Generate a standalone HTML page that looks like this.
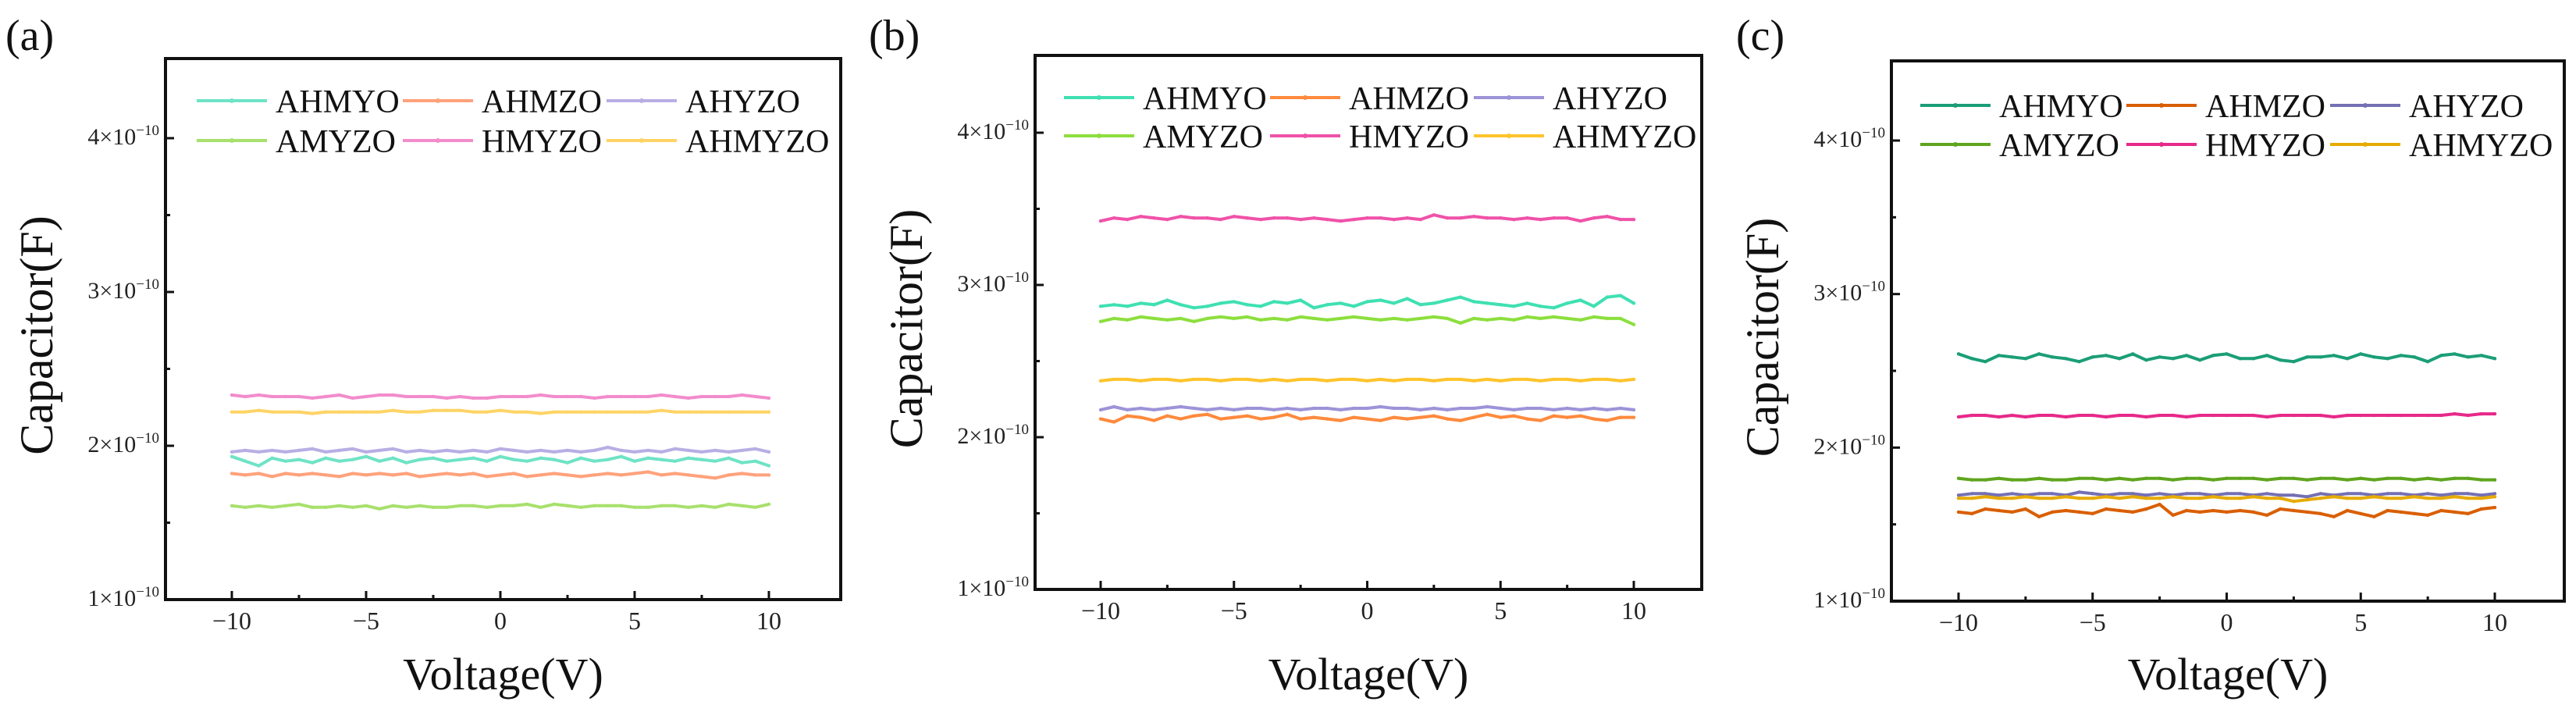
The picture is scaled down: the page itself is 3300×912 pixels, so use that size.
<!DOCTYPE html>
<html><head><meta charset="utf-8"><style>
html,body{margin:0;padding:0;background:#fff;}
svg{display:block;font-family:"Liberation Serif",serif;}
</style></head><body>
<svg id="fig" width="3300" height="912" viewBox="0 0 3300 912" xmlns="http://www.w3.org/2000/svg"></svg>
<script>
const voltages=[-10,-9.5,-9,-8.5,-8,-7.5,-7,-6.5,-6,-5.5,-5,-4.5,-4,-3.5,-3,-2.5,-2,-1.5,-1,-0.5,0,0.5,1,1.5,2,2.5,3,3.5,4,4.5,5,5.5,6,6.5,7,7.5,8,8.5,9,9.5,10];
const seriesNames=["AHMYO","AHMZO","AHYZO","AMYZO","HMYZO","AHMYZO"];
const xTicks=[-10,-5,0,5,10];
const xTickLabels=["\u221210","\u22125","0","5","10"];
const yTicks=[1,2,3,4];
const yTickLabels=["1","2","3","4"];
// panel (a), units of 1e-10 F
const a_AHMYO=[1.93,1.90,1.87,1.92,1.90,1.91,1.89,1.92,1.90,1.91,1.93,1.90,1.92,1.89,1.91,1.92,1.90,1.91,1.92,1.90,1.93,1.91,1.90,1.92,1.91,1.89,1.92,1.90,1.91,1.93,1.90,1.92,1.91,1.90,1.92,1.91,1.90,1.92,1.89,1.90,1.87];
const a_AHMZO=[1.82,1.81,1.82,1.80,1.82,1.81,1.82,1.81,1.80,1.82,1.81,1.82,1.81,1.82,1.80,1.81,1.82,1.81,1.82,1.80,1.81,1.82,1.80,1.81,1.82,1.81,1.80,1.81,1.82,1.81,1.82,1.83,1.81,1.82,1.81,1.80,1.79,1.81,1.82,1.81,1.81];
const a_AHYZO=[1.96,1.97,1.96,1.97,1.96,1.97,1.98,1.96,1.97,1.98,1.96,1.97,1.98,1.96,1.97,1.96,1.97,1.96,1.97,1.96,1.98,1.97,1.96,1.97,1.96,1.97,1.96,1.97,1.99,1.97,1.96,1.97,1.96,1.98,1.97,1.96,1.97,1.96,1.97,1.98,1.96];
const a_AMYZO=[1.61,1.60,1.61,1.60,1.61,1.62,1.60,1.60,1.61,1.60,1.61,1.59,1.61,1.60,1.61,1.60,1.60,1.61,1.61,1.60,1.61,1.61,1.62,1.60,1.62,1.61,1.60,1.61,1.61,1.61,1.60,1.60,1.61,1.61,1.60,1.61,1.60,1.62,1.61,1.60,1.62];
const a_HMYZO=[2.33,2.32,2.33,2.32,2.32,2.32,2.31,2.32,2.33,2.31,2.32,2.33,2.33,2.32,2.32,2.32,2.31,2.32,2.31,2.31,2.32,2.32,2.32,2.33,2.32,2.32,2.32,2.31,2.32,2.32,2.32,2.32,2.33,2.32,2.31,2.32,2.32,2.32,2.33,2.32,2.31];
const a_AHMYZO=[2.22,2.22,2.23,2.22,2.22,2.22,2.21,2.22,2.22,2.22,2.22,2.22,2.23,2.22,2.22,2.23,2.23,2.23,2.22,2.22,2.23,2.22,2.22,2.21,2.22,2.22,2.22,2.22,2.22,2.22,2.22,2.22,2.23,2.22,2.22,2.22,2.22,2.22,2.22,2.22,2.22];
// panel (b)
const b_AHMYO=[2.86,2.87,2.86,2.88,2.87,2.90,2.87,2.85,2.86,2.88,2.89,2.87,2.86,2.89,2.88,2.90,2.85,2.87,2.88,2.86,2.89,2.90,2.88,2.91,2.87,2.88,2.90,2.92,2.89,2.88,2.87,2.86,2.88,2.86,2.85,2.88,2.90,2.86,2.92,2.93,2.88];
const b_AMYZO=[2.76,2.78,2.77,2.79,2.78,2.77,2.78,2.76,2.78,2.79,2.78,2.79,2.77,2.78,2.77,2.79,2.78,2.77,2.78,2.79,2.78,2.77,2.78,2.77,2.78,2.79,2.78,2.75,2.78,2.77,2.78,2.77,2.79,2.78,2.79,2.78,2.77,2.79,2.78,2.78,2.74];
const b_AHYZO=[2.18,2.20,2.18,2.19,2.18,2.19,2.20,2.19,2.18,2.19,2.18,2.19,2.19,2.18,2.19,2.18,2.19,2.19,2.18,2.19,2.19,2.20,2.19,2.19,2.18,2.19,2.18,2.19,2.19,2.20,2.19,2.18,2.19,2.19,2.18,2.19,2.18,2.19,2.18,2.19,2.18];
const b_AHMZO=[2.12,2.10,2.14,2.13,2.11,2.14,2.12,2.14,2.15,2.12,2.13,2.14,2.12,2.13,2.15,2.12,2.13,2.12,2.11,2.13,2.12,2.11,2.13,2.12,2.13,2.14,2.12,2.11,2.13,2.15,2.13,2.14,2.12,2.11,2.14,2.13,2.14,2.12,2.11,2.13,2.13];
const b_HMYZO=[3.42,3.44,3.43,3.45,3.44,3.43,3.45,3.44,3.44,3.43,3.45,3.44,3.43,3.44,3.44,3.43,3.44,3.43,3.42,3.43,3.44,3.44,3.43,3.44,3.43,3.46,3.44,3.44,3.45,3.44,3.44,3.43,3.44,3.43,3.44,3.44,3.42,3.44,3.45,3.43,3.43];
const b_AHMYZO=[2.37,2.38,2.38,2.37,2.38,2.38,2.37,2.38,2.38,2.37,2.38,2.38,2.37,2.38,2.37,2.38,2.38,2.37,2.38,2.38,2.37,2.38,2.37,2.38,2.38,2.37,2.38,2.38,2.37,2.38,2.37,2.38,2.38,2.37,2.38,2.38,2.37,2.38,2.38,2.37,2.38];
// panel (c)
const c_AHMYO=[2.61,2.58,2.56,2.60,2.59,2.58,2.61,2.59,2.58,2.56,2.59,2.60,2.58,2.61,2.57,2.59,2.58,2.60,2.57,2.60,2.61,2.58,2.58,2.60,2.57,2.56,2.59,2.59,2.60,2.58,2.61,2.59,2.58,2.60,2.59,2.56,2.60,2.61,2.59,2.60,2.58];
const c_HMYZO=[2.20,2.21,2.21,2.20,2.21,2.20,2.21,2.21,2.20,2.21,2.21,2.20,2.21,2.21,2.20,2.21,2.21,2.20,2.21,2.21,2.21,2.21,2.21,2.20,2.21,2.21,2.21,2.21,2.20,2.21,2.21,2.21,2.21,2.21,2.21,2.21,2.21,2.22,2.21,2.22,2.22];
const c_AMYZO=[1.80,1.79,1.79,1.80,1.79,1.79,1.80,1.79,1.79,1.80,1.80,1.79,1.80,1.79,1.80,1.80,1.79,1.80,1.80,1.79,1.80,1.80,1.80,1.79,1.80,1.80,1.79,1.80,1.80,1.79,1.80,1.79,1.80,1.80,1.79,1.80,1.79,1.80,1.80,1.79,1.79];
const c_AHYZO=[1.69,1.70,1.70,1.69,1.70,1.69,1.70,1.70,1.69,1.71,1.70,1.69,1.70,1.70,1.69,1.70,1.69,1.70,1.70,1.69,1.70,1.70,1.69,1.70,1.69,1.69,1.68,1.70,1.69,1.70,1.70,1.69,1.70,1.70,1.69,1.70,1.69,1.70,1.70,1.69,1.70];
const c_AHMYZO=[1.67,1.67,1.68,1.67,1.67,1.68,1.67,1.67,1.68,1.67,1.67,1.68,1.67,1.68,1.67,1.67,1.68,1.67,1.67,1.68,1.67,1.67,1.68,1.67,1.67,1.65,1.66,1.67,1.68,1.67,1.67,1.68,1.67,1.67,1.68,1.67,1.67,1.68,1.67,1.67,1.68];
const c_AHMZO=[1.58,1.57,1.60,1.59,1.58,1.60,1.55,1.58,1.59,1.58,1.57,1.60,1.59,1.58,1.60,1.63,1.56,1.59,1.58,1.59,1.58,1.59,1.58,1.56,1.60,1.59,1.58,1.57,1.55,1.59,1.57,1.55,1.59,1.58,1.57,1.56,1.59,1.58,1.57,1.60,1.61];

const panels=[
 {id:"a",label:"(a)",lx:7,ly:64,box:{l:212,r:1077,t:75,b:768},xp:[297,985],yp:[768,177],leg:{x:252,y:[129,180]},
  colors:["#6fe3c6","#ffa27c","#b8aee4","#a8e06c","#f28ccb","#ffd466"],
  data:[a_AHMYO,a_AHMZO,a_AHYZO,a_AMYZO,a_HMYZO,a_AHMYZO]},
 {id:"b",label:"(b)",lx:1113,ly:64,box:{l:1326,r:2180,t:71,b:755},xp:[1410,2093],yp:[755,170],leg:{x:1363,y:[125,174]},
  colors:["#3fe0b2","#ff8a3d","#9c93d8","#8cdf3e","#f052a8","#ffc42c"],
  data:[b_AHMYO,b_AHMZO,b_AHYZO,b_AMYZO,b_HMYZO,b_AHMYZO]},
 {id:"c",label:"(c)",lx:2224,ly:64,box:{l:2423,r:3285,t:78,b:770},xp:[2509,3196],yp:[770,180],leg:{x:2460,y:[135,185]},
  colors:["#1b9e77","#d95f02","#7570b3","#5fa51e","#e7298a","#e6ab02"],
  data:[c_AHMYO,c_AHMZO,c_AHYZO,c_AMYZO,c_HMYZO,c_AHMYZO]}
];
const NS="http://www.w3.org/2000/svg";
const svg=document.getElementById("fig");
function mk(tag,attrs,parent){const e=document.createElementNS(NS,tag);for(const k in attrs)e.setAttribute(k,attrs[k]);(parent||svg).appendChild(e);return e;}

panels.forEach(p=>{
  const g=mk("g",{});
  
  
  const X=v=>p.xp[0]+(v-xTicks[0])*(p.xp[1]-p.xp[0])/(xTicks[xTicks.length-1]-xTicks[0]);
  const Y=v=>p.yp[0]+(v-yTicks[0])*(p.yp[1]-p.yp[0])/(yTicks[yTicks.length-1]-yTicks[0]);
  const B=p.box;
  const pl=mk("text",{x:p.lx,y:p.ly,"font-size":56,fill:"#111"},g);pl.textContent=p.label;
  
  
  const fr=mk("rect",{x:B.l,y:B.t,width:B.r-B.l,height:B.b-B.t,fill:"none",stroke:"#111","stroke-width":4},g);
  
  
  // x ticks
  xTicks.forEach((v,i)=>{
    const x=X(v);
    const t=mk("line",{x1:x,x2:x,y1:B.b,y2:B.b-11,stroke:"#111","stroke-width":3},g);
    
    
    const tl=mk("text",{x:x,y:B.b+38,"font-size":32,"text-anchor":"middle",fill:"#222"},g);tl.textContent=xTickLabels[i];
    
    
    if(i<xTicks.length-1){const xm=X(v+2.5);const m=mk("line",{x1:xm,x2:xm,y1:B.b,y2:B.b-6,stroke:"#111","stroke-width":3},g);
      
      }
  });
  yTicks.forEach((v,i)=>{
    const y=Y(v);
    const t=mk("line",{x1:B.l,x2:B.l+11,y1:y,y2:y,stroke:"#111","stroke-width":3},g);
    
    
    const tl=mk("text",{x:B.l-8,y:y+8,"font-size":30,"text-anchor":"end",fill:"#222"},g);
    
    
    const s1=mk("tspan",{},tl);s1.textContent=yTickLabels[i]+"\u00d710";
    const s2=mk("tspan",{dy:-12,"font-size":19},tl);s2.textContent="\u221210";
    if(i<yTicks.length-1){const ym=Y(v+0.5);const m=mk("line",{x1:B.l,x2:B.l+6,y1:ym,y2:ym,stroke:"#111","stroke-width":3},g);
      
      }
  });
  const xt=mk("text",{x:(B.l+B.r)/2,y:883,"font-size":58,"text-anchor":"middle",fill:"#111"},g);xt.textContent="Voltage(V)";
  
  
  const yx=B.l-145, yy=(B.t+B.b)/2+8;
  const yt=mk("text",{x:yx,y:yy,"font-size":60,"text-anchor":"middle",fill:"#111",transform:`rotate(-90 ${yx} ${yy})`},g);yt.textContent="Capacitor(F)";
  
  
  // series
  p.data.forEach((arr,si)=>{
    const pts=arr.map((v,k)=>X(voltages[k]).toFixed(1)+","+Y(v).toFixed(1)).join(" ");
    const sg=mk("g",{},g);
    
    
    mk("polyline",{points:pts,fill:"none",stroke:p.colors[si],"stroke-width":4,"stroke-linejoin":"round"},sg);
    arr.forEach((v,k)=>{const c=mk("circle",{cx:X(voltages[k]),cy:Y(v),r:2.2,fill:p.colors[si]},sg);
      
      });
    // legend
    const col=si%3,row=Math.floor(si/3);
    const lx=p.leg.x+[0,264,525][col], ly=p.leg.y[row];
    const le=mk("g",{},g);
    
    
    mk("line",{x1:lx,x2:lx+90,y1:ly,y2:ly,stroke:p.colors[si],"stroke-width":4},le);
    mk("circle",{cx:lx+45,cy:ly,r:3,fill:p.colors[si]},le);
    const lt=mk("text",{x:lx+101,y:ly+15,"font-size":42,fill:"#111"},le);lt.textContent=seriesNames[si];
  });
});
</script>
</body></html>
